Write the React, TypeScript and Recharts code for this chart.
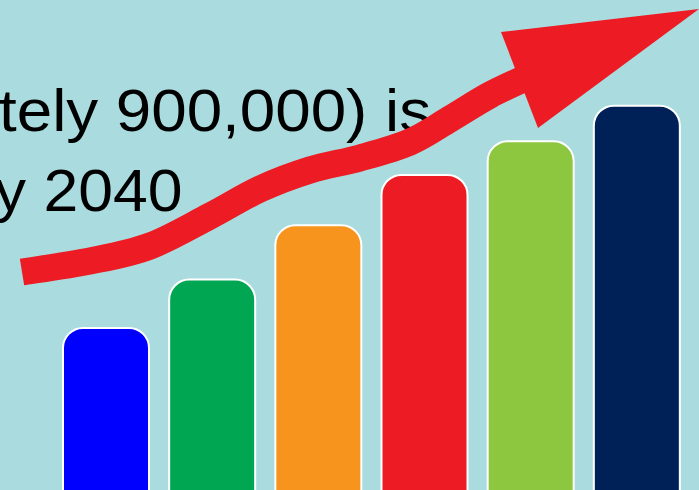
import React from "react";
import { BarChart, Bar, XAxis, YAxis, Cell, Customized } from "recharts";

const categories = ["A", "B", "C", "D", "E", "F"];
const values = [168, 217, 272, 323, 357, 393];
const barColors = ["#0000ff", "#00a651", "#f7941d", "#ed1c24", "#8dc63f", "#002157"];
const textLines = ["tely 900,000) is", "y 2040"];
const trendPoints: [number, number][] = [
  [22, 272], [90, 261], [150, 246], [210, 216], [260, 189], [310, 170],
  [360, 158], [410, 142], [450, 119], [490, 95], [530, 76],
];
const arrowHead: [number, number][] = [[501, 32], [699, 9], [538, 128]];

const data = categories.map((c, i) => ({ name: c, value: values[i] }));

function catmull(pts: [number, number][]) {
  let d = `M${pts[0][0]},${pts[0][1]}`;
  for (let i = 0; i < pts.length - 1; i++) {
    const p0 = pts[i - 1] || pts[i];
    const p1 = pts[i];
    const p2 = pts[i + 1];
    const p3 = pts[i + 2] || p2;
    const c1x = p1[0] + (p2[0] - p0[0]) / 6;
    const c1y = p1[1] + (p2[1] - p0[1]) / 6;
    const c2x = p2[0] - (p3[0] - p1[0]) / 6;
    const c2y = p2[1] - (p3[1] - p1[1]) / 6;
    d += ` C${c1x},${c1y} ${c2x},${c2y} ${p2[0]},${p2[1]}`;
  }
  return d;
}

const TextLayer = () => (
  <g fontFamily="'Liberation Sans', Arial, sans-serif" fontSize={59} fill="#000">
    <text transform="translate(-1,131) scale(1.08,1)" textAnchor="start">{textLines[0]}</text>
    <text transform="translate(182.5,211) scale(1.06,1)" textAnchor="end">{textLines[1]}</text>
  </g>
);

const ArrowLayer = () => (
  <g>
    <path d={catmull(trendPoints)} fill="none" stroke="#ed1c24" strokeWidth={27} strokeLinecap="butt" strokeLinejoin="round" />
    <polygon points={arrowHead.map((p) => p.join(",")).join(" ")} fill="#ed1c24" />
  </g>
);

export default function App() {
  return (
    <div style={{ position: "absolute", left: 0, top: 0, width: 699, height: 490, overflow: "hidden", background: "#aadcdf" }}>
      <BarChart width={699} height={494} data={data} margin={{ top: 0, right: 9, bottom: 0, left: 53 }}>
        <XAxis dataKey="name" hide />
        <YAxis hide domain={[0, 500]} />
        <Customized component={TextLayer} />
        <Customized component={ArrowLayer} />
        <Bar dataKey="value" barSize={86} stroke="#ffffff" strokeWidth={2} radius={[20, 20, 0, 0]} isAnimationActive={false}>
          {data.map((d, i) => (
            <Cell key={d.name} fill={barColors[i]} />
          ))}
        </Bar>
      </BarChart>
    </div>
  );
}
